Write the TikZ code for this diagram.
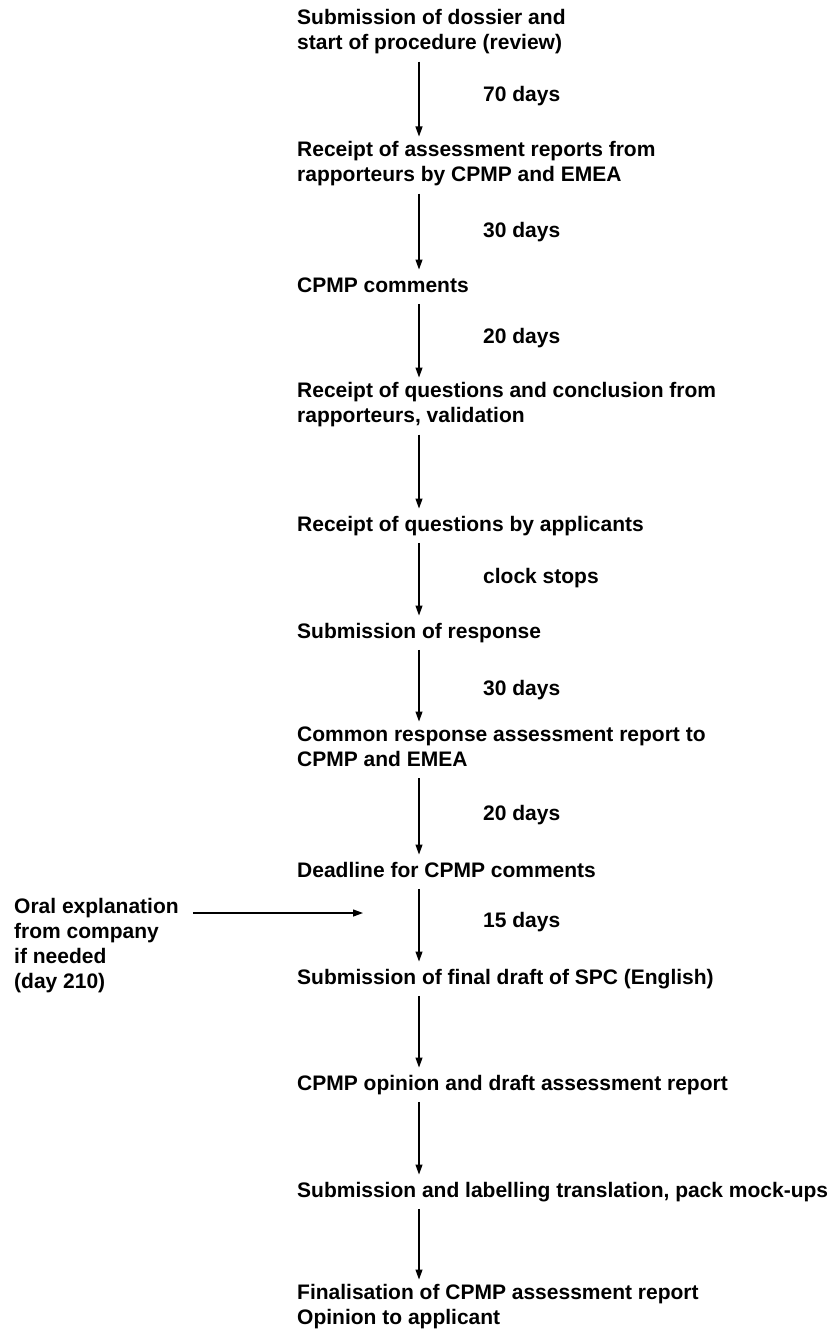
\documentclass[tikz,border=0pt]{standalone}
\usepackage{fontspec}
\setmainfont{Liberation Sans}
\usetikzlibrary{arrows.meta}
\newcommand{\flowfont}{\bfseries\fontsize{21}{25}\selectfont}

\begin{document}
\begin{tikzpicture}[x=1pt,y=-1pt,
  stage/.style={anchor=north west,inner sep=0pt,align=left,font=\flowfont,
    execute at begin node=\strut,execute at end node=\strut},
  gap/.style={anchor=base west,inner sep=0pt,font=\flowfont},
  flow/.style={line width=1.2pt,-{Triangle[length=10pt,width=7pt]},shorten <=4pt,shorten >=5pt}]
\useasboundingbox (0,0) rectangle (835,1335);
\coordinate (axis) at (419,0);
% stages of the procedure
\node[stage] (s1) at (297,9.5) {Submission of dossier and\\start of procedure (review)};
\node[stage] (s2) at (297,141.5) {Receipt of assessment reports from\\rapporteurs by CPMP and EMEA};
\node[stage] (s3) at (297,274.5) {CPMP comments};
\node[stage] (s4) at (297,382.5) {Receipt of questions and conclusion from\\rapporteurs, validation};
\node[stage] (s5) at (297,513.5) {Receipt of questions by applicants};
\node[stage] (s6) at (297,620.5) {Submission of response};
\node[stage] (s7) at (297,726.5) {Common response assessment report to\\CPMP and EMEA};
\node[stage] (s8) at (297,859.5) {Deadline for CPMP comments};
\node[stage] (s9) at (297,966.5) {Submission of final draft of SPC (English)};
\node[stage] (s10) at (297,1072.5) {CPMP opinion and draft assessment report};
\node[stage] (s11) at (297,1179.5) {Submission and labelling translation, pack mock-ups};
\node[stage] (s12) at (297,1284.5) {Finalisation of CPMP assessment report\\Opinion to applicant};
% time between stages
\node[gap] (g1) at (483,102) {70 days};
\node[gap] (g2) at (483,237) {30 days};
\node[gap] (g3) at (483,343) {20 days};
\node[gap] (g5) at (483,583) {clock stops};
\node[gap] (g6) at (483,695) {30 days};
\node[gap] (g7) at (483,820) {20 days};
\node[gap] (g8) at (483,927) {15 days};
\foreach \a/\b in {s1/s2,s2/s3,s3/s4,s4/s5,s5/s6,s6/s7,s7/s8,s8/s9,s9/s10,s10/s11,s11/s12}
  \draw[flow] (\a.south -| axis) -- (\b.north -| axis);
% side input
\node[stage] (oral) at (14,898.5) {Oral explanation\\from company\\if needed\\(day 210)};
\coordinate (oralend) at (363,913);
\draw[flow,shorten <=0pt,shorten >=0pt] ([xshift=14pt]oral.east |- oralend) -- (oralend);
\end{tikzpicture}
\end{document}
